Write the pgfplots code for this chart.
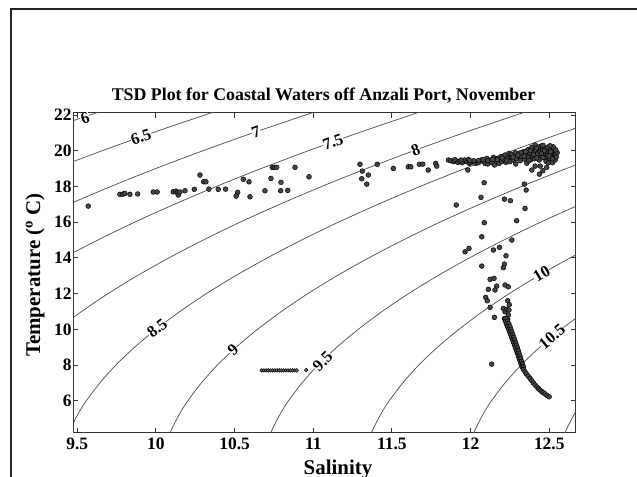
\documentclass[border=0pt]{standalone}
\usepackage{fontspec}
\setmainfont{Liberation Serif}
\usepackage{pgfplots}
\pgfplotsset{compat=1.18}

\begin{document}
\begin{tikzpicture}
\useasboundingbox (0bp,0bp) rectangle (637bp,-477bp);
\draw[line width=1.3bp, black!85] (11bp,-477bp) -- (11bp,-9bp) -- (637bp,-9bp);
\begin{axis}[
  at={(73.3bp,-432.7bp)}, anchor=south west,
  scale only axis, width=502.4bp, height=320bp,
  xmin=9.475, xmax=12.668, ymin=4.21, ymax=22.13,
  xtick={9.5,10,10.5,11,11.5,12,12.5},
  ytick={6,8,10,12,14,16,18,20,22},
  /pgf/number format/assume math mode=true,
  ticklabel style={font=\bfseries\fontsize{17.5}{17.5}\selectfont, inner sep=0pt},
  xticklabel style={yshift=-5bp},
  yticklabel style={xshift=-1.5bp},
  axis line style={line width=1.5bp, black!80},
  major tick style={line width=1bp, black!80},
  major tick length=5bp,
  tick align=inside,
  clip=true,
]
% density contours (sigma)
\pgfplotsset{cont/.style={no marks, smooth, line width=0.7bp, black!70}}
\addplot[cont] coordinates {(9.246,21) (9.58,22) (9.649,22.2)};
\addplot[cont] coordinates {(9.074,18) (9.358,19) (9.659,20) (9.976,21) (10.31,22) (10.379,22.2)};
\addplot[cont] coordinates {(9.195,16) (9.447,17) (9.714,18) (9.998,19) (10.299,20) (10.616,21) (10.95,22) (11.019,22.2)};
\addplot[cont] coordinates {(9.211,13) (9.413,14) (9.631,15) (9.865,16) (10.117,17) (10.384,18) (10.668,19) (10.969,20) (11.286,21) (11.62,22) (11.689,22.2)};
\addplot[cont] coordinates {(9.376,10) (9.528,11) (9.696,12) (9.881,13) (10.083,14) (10.301,15) (10.535,16) (10.787,17) (11.054,18) (11.338,19) (11.639,20) (11.956,21) (12.29,22) (12.359,22.2)};
\addplot[cont] coordinates {(9.436,4.0) (9.445,4.2) (9.46,4.5) (9.489,5) (9.521,5.5) (9.558,6) (9.644,7) (9.746,8) (9.865,9) (10.001,10) (10.153,11) (10.321,12) (10.506,13) (10.708,14) (10.926,15) (11.16,16) (11.412,17) (11.679,18) (11.963,19) (12.264,20) (12.581,21) (12.915,22)};
\addplot[cont] coordinates {(10.081,4.0) (10.09,4.2) (10.105,4.5) (10.134,5) (10.166,5.5) (10.203,6) (10.289,7) (10.391,8) (10.51,9) (10.646,10) (10.798,11) (10.966,12) (11.151,13) (11.353,14) (11.571,15) (11.805,16) (12.057,17) (12.324,18) (12.608,19) (12.909,20)};
\addplot[cont] coordinates {(10.721,4.0) (10.73,4.2) (10.745,4.5) (10.774,5) (10.806,5.5) (10.843,6) (10.929,7) (11.031,8) (11.15,9) (11.286,10) (11.438,11) (11.606,12) (11.791,13) (11.993,14) (12.211,15) (12.445,16) (12.697,17)};
\addplot[cont] coordinates {(11.361,4.0) (11.37,4.2) (11.385,4.5) (11.414,5) (11.446,5.5) (11.483,6) (11.569,7) (11.671,8) (11.79,9) (11.926,10) (12.078,11) (12.246,12) (12.431,13) (12.633,14) (12.851,15)};
\addplot[cont] coordinates {(12.011,4.0) (12.02,4.2) (12.035,4.5) (12.064,5) (12.096,5.5) (12.133,6) (12.219,7) (12.321,8) (12.44,9) (12.576,10) (12.728,11)};
\addplot[cont] coordinates {(12.591,4.0) (12.6,4.2) (12.615,4.5) (12.644,5) (12.676,5.5) (12.713,6)};

% contour labels
\tikzset{clab/.style={fill=white, inner sep=0.4bp, font=\bfseries\fontsize{16.5}{16.5}\selectfont}}
\node[clab, rotate=18.5] at (axis cs:9.55,21.8) {6};
\node[clab, rotate=19.4] at (axis cs:9.905,20.78) {6.5};
\node[clab, rotate=19.2] at (axis cs:10.636,21.06) {7};
\node[clab, rotate=19.7] at (axis cs:11.125,20.5) {7.5};
\node[clab, rotate=20.1] at (axis cs:11.651,20.04) {8};
\node[clab, rotate=38.1] at (axis cs:10.008,10.05) {8.5};
\node[clab, rotate=42.3] at (axis cs:10.49,8.84) {9};
\node[clab, rotate=45] at (axis cs:11.06,8.2) {9.5};
\node[clab, rotate=30.2] at (axis cs:12.451,13.1) {10};
\node[clab, rotate=39.7] at (axis cs:12.517,9.58) {10.5};

% observations
\addplot[only marks, mark=*, mark size=2.4bp, mark options={draw=black, fill=black!72, line width=0.5bp}] coordinates {
(9.570,16.90)
(9.771,17.56) (9.789,17.57) (9.803,17.61) (9.835,17.56) (9.884,17.58)
(9.983,17.69) (10.008,17.69)
(10.110,17.70) (10.127,17.74) (10.136,17.65) (10.142,17.52) (10.153,17.69)
(10.185,17.76) (10.244,17.84)
(10.280,18.64) (10.303,18.26) (10.318,18.26)
(10.337,17.85) (10.396,17.84) (10.443,17.85)
(10.520,17.67) (10.510,17.46) (10.555,18.40) (10.592,18.26) (10.598,17.42)
(10.693,17.76) (10.731,18.45) (10.740,19.07) (10.752,19.07) (10.768,19.07)
(10.795,18.23) (10.793,17.76) (10.838,17.78) (10.884,19.07) (10.973,18.54)
(11.297,19.24) (11.312,18.86) (11.350,18.64) (11.308,18.43) (11.340,18.13)
(11.407,19.24) (11.509,19.01) (11.604,19.10) (11.620,19.10) (11.674,19.24) (11.696,19.25)
(11.731,18.92) (11.778,19.29) (11.785,19.14)
(11.859,19.48) (11.875,19.44) (11.891,19.39) (11.906,19.44) (11.919,19.35) (11.933,19.42)
(11.948,19.33) (11.961,19.48) (11.976,19.39) (11.986,19.51) (11.991,19.29) (11.982,18.92)
(12.003,19.35) (12.018,19.39) (12.033,19.29) (12.050,19.33) (12.067,19.48) (12.082,19.39)
(12.092,19.29) (12.103,19.57) (12.109,19.26) (12.124,19.48) (12.135,19.33) (12.145,19.63)
(12.152,19.20) (12.160,19.44) (12.173,19.57) (12.181,19.29) (12.194,19.67) (12.198,19.39)
(12.209,19.51) (12.219,19.76) (12.224,19.35) (12.236,19.57) (12.245,19.85) (12.251,19.39)
(12.262,19.67) (12.272,19.48) (12.283,19.89) (12.287,19.26) (12.300,19.63) (12.308,19.85)
(12.315,19.44) (12.325,19.70) (12.336,19.94) (12.342,19.53) (12.351,19.76) (12.357,19.30)
(12.364,20.06) (12.368,19.63) (12.378,19.85) (12.385,19.51) (12.389,20.19) (12.393,19.70)
(12.400,19.94) (12.406,19.55) (12.410,20.32) (12.414,20.04) (12.421,19.70) (12.427,19.82)
(12.431,20.08) (12.436,19.48) (12.442,19.94) (12.448,20.26) (12.453,19.70) (12.457,20.04)
(12.463,19.85) (12.469,20.16) (12.474,19.57) (12.478,19.94) (12.484,20.08) (12.489,19.76)
(12.495,19.48) (12.499,19.94) (12.506,20.13) (12.512,19.67) (12.516,19.85) (12.520,19.33)
(12.527,20.04) (12.529,19.57) (12.533,19.76) (12.537,19.48) (12.542,19.92)
(12.20,19.60) (12.23,19.45) (12.26,19.80) (12.29,19.55) (12.32,19.90) (12.34,19.70)
(12.37,19.45) (12.38,20.00) (12.40,19.80) (12.42,19.60) (12.43,20.20) (12.45,19.85)
(12.46,19.62) (12.47,20.00) (12.48,19.40) (12.49,20.20) (12.50,19.70) (12.51,19.95)
(12.52,19.55) (12.53,20.10) (12.54,19.80) (12.545,19.65) (12.55,19.90) (12.54,20.05)
(12.525,20.22) (12.505,20.28) (12.46,20.30) (12.42,20.15) (12.35,19.95) (12.30,19.75)
(12.27,19.65) (12.17,19.50) (12.14,19.52) (12.11,19.44) (12.08,19.50) (12.05,19.45)
(12.02,19.44) (11.995,19.45) (11.94,19.48) (11.90,19.50)
(12.389,18.92) (12.410,19.14) (12.442,19.14) (12.459,18.88) (12.437,18.69) (12.484,19.07) (12.494,19.33)
(11.909,16.96) (12.086,18.21) (12.066,17.39) (12.215,17.29) (12.253,17.20)
(12.342,18.13) (12.353,17.80) (12.346,16.77) (12.087,15.97) (12.293,16.08)
(12.071,15.18) (12.262,15.00) (11.965,14.34) (11.990,14.53) (12.145,14.44) (12.183,14.59)
(12.225,14.12) (12.071,13.54) (12.215,13.65) (12.208,13.45)
(12.124,12.80) (12.149,12.85) (12.113,12.24) (12.166,12.42) (12.155,12.20)
(12.219,12.48) (12.240,12.38) (12.096,11.79) (12.106,11.60) (12.236,11.60) (12.246,11.38)
(12.124,11.23) (12.208,11.17) (12.219,10.98) (12.230,11.12) (12.244,11.08) (12.240,10.80)
(12.151,10.67) (12.236,10.56) (12.223,10.56)
(12.134,8.05)
(12.215,10.60) (12.225,10.60) (12.222,10.45) (12.235,10.45) (12.228,10.30) (12.243,10.30)
(12.235,10.15) (12.250,10.15) (12.242,10.00) (12.256,10.00) (12.248,9.85) (12.262,9.85)
(12.255,9.70) (12.268,9.70) (12.261,9.55) (12.274,9.55) (12.268,9.40) (12.280,9.40)
(12.274,9.25) (12.286,9.25) (12.280,9.10) (12.292,9.10) (12.286,8.95) (12.298,8.95)
(12.292,8.80) (12.303,8.80) (12.298,8.65) (12.308,8.65) (12.304,8.50) (12.314,8.50)
(12.309,8.35) (12.318,8.35) (12.315,8.20) (12.324,8.20) (12.321,8.05) (12.330,8.05)
(12.327,7.90) (12.336,7.90) (12.336,7.75) (12.346,7.62) (12.355,7.50) (12.366,7.38)
(12.378,7.25) (12.389,7.12) (12.399,7.00) (12.410,6.88) (12.422,6.77) (12.432,6.68)
(12.441,6.60) (12.452,6.52) (12.462,6.45) (12.473,6.38) (12.486,6.30) (12.499,6.22)
};
\addplot[only marks, mark=*, mark size=1.8bp, mark options={draw=black, fill=black!55, line width=0.5bp}] coordinates {
(10.672,7.70) (10.686,7.70) (10.700,7.70) (10.714,7.70) (10.728,7.70) (10.742,7.70)
(10.756,7.70) (10.770,7.70) (10.784,7.70) (10.798,7.70) (10.812,7.70) (10.826,7.70)
(10.840,7.70) (10.854,7.70) (10.868,7.70) (10.882,7.70) (10.895,7.70) (10.955,7.72)
};
\end{axis}
\node[anchor=base, font=\bfseries\fontsize{17.9}{20}\selectfont] at (323.5bp,-100bp) {TSD Plot for Coastal Waters off Anzali Port, November};
\node[anchor=base, font=\bfseries\fontsize{21}{22}\selectfont] at (338bp,-474bp) {Salinity};
\node[rotate=90, font=\bfseries\fontsize{21}{22}\selectfont] at (35bp,-275bp) {Temperature (\textsuperscript{o} C)};
\end{tikzpicture}
\end{document}
